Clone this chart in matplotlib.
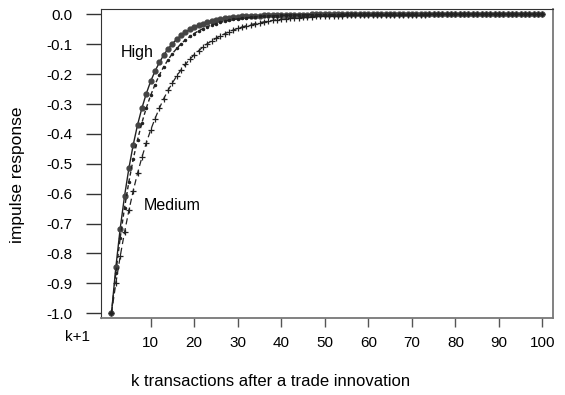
import matplotlib
matplotlib.use('Agg')
import matplotlib.pyplot as plt

plt.rcParams['font.family'] = ['Liberation Sans', 'DejaVu Sans']

# k = 1..100 transactions after the trade innovation
k = list(range(1, 101))

# impulse responses
high = [-1.000, -0.847, -0.717, -0.608, -0.515, -0.436, -0.369, -0.313, -0.265, -0.224,
        -0.190, -0.161, -0.136, -0.115, -0.098, -0.083, -0.070, -0.059, -0.050, -0.043,
        -0.036, -0.031, -0.026, -0.022, -0.019, -0.016, -0.013, -0.011, -0.010, -0.008,
        -0.007, -0.006, -0.005, -0.004, -0.004, -0.003, -0.003, -0.002, -0.002, -0.002,
        -0.001, -0.001, -0.001, -0.001, -0.001, -0.001, 0.000, 0.000, 0.000, 0.000,
        0.000, 0.000, 0.000, 0.000, 0.000, 0.000, 0.000, 0.000, 0.000, 0.000,
        0.000, 0.000, 0.000, 0.000, 0.000, 0.000, 0.000, 0.000, 0.000, 0.000,
        0.000, 0.000, 0.000, 0.000, 0.000, 0.000, 0.000, 0.000, 0.000, 0.000,
        0.000, 0.000, 0.000, 0.000, 0.000, 0.000, 0.000, 0.000, 0.000, 0.000,
        0.000, 0.000, 0.000, 0.000, 0.000, 0.000, 0.000, 0.000, 0.000, 0.000]

mid = [-1.000, -0.865, -0.748, -0.647, -0.560, -0.484, -0.419, -0.362, -0.313, -0.271,
       -0.235, -0.203, -0.175, -0.152, -0.131, -0.114, -0.098, -0.085, -0.074, -0.064,
       -0.055, -0.048, -0.041, -0.036, -0.031, -0.027, -0.023, -0.020, -0.017, -0.015,
       -0.013, -0.011, -0.010, -0.008, -0.007, -0.006, -0.005, -0.005, -0.004, -0.003,
       -0.003, -0.003, -0.002, -0.002, -0.002, -0.001, -0.001, -0.001, -0.001, -0.001,
       -0.001, -0.001, -0.001, 0.000, 0.000, 0.000, 0.000, 0.000, 0.000, 0.000,
       0.000, 0.000, 0.000, 0.000, 0.000, 0.000, 0.000, 0.000, 0.000, 0.000,
       0.000, 0.000, 0.000, 0.000, 0.000, 0.000, 0.000, 0.000, 0.000, 0.000,
       0.000, 0.000, 0.000, 0.000, 0.000, 0.000, 0.000, 0.000, 0.000, 0.000,
       0.000, 0.000, 0.000, 0.000, 0.000, 0.000, 0.000, 0.000, 0.000, 0.000]

medium = [-1.000, -0.900, -0.810, -0.729, -0.656, -0.590, -0.531, -0.478, -0.430, -0.387,
          -0.349, -0.314, -0.282, -0.254, -0.229, -0.206, -0.185, -0.167, -0.150, -0.135,
          -0.122, -0.109, -0.098, -0.089, -0.080, -0.072, -0.065, -0.058, -0.052, -0.047,
          -0.042, -0.038, -0.034, -0.031, -0.028, -0.025, -0.023, -0.020, -0.018, -0.016,
          -0.015, -0.013, -0.012, -0.011, -0.010, -0.009, -0.008, -0.007, -0.006, -0.006,
          -0.005, -0.005, -0.004, -0.004, -0.003, -0.003, -0.003, -0.002, -0.002, -0.002,
          -0.002, -0.002, -0.001, -0.001, -0.001, -0.001, -0.001, -0.001, -0.001, -0.001,
          -0.001, -0.001, -0.001, 0.000, 0.000, 0.000, 0.000, 0.000, 0.000, 0.000,
          0.000, 0.000, 0.000, 0.000, 0.000, 0.000, 0.000, 0.000, 0.000, 0.000,
          0.000, 0.000, 0.000, 0.000, 0.000, 0.000, 0.000, 0.000, 0.000, 0.000]

xticks = [10, 20, 30, 40, 50, 60, 70, 80, 90, 100]
yticks = [0.0, -0.1, -0.2, -0.3, -0.4, -0.5, -0.6, -0.7, -0.8, -0.9, -1.0]

fig = plt.figure(figsize=(5.65, 3.95), dpi=100)
ax = fig.add_axes([0.1788, 0.1942, 0.7991, 0.783])

ax.plot(k, high, color='#222222', lw=1.0, ls='-', marker='o', ms=3.5,
        mfc='#444444', mec='#444444')
ax.plot(k, mid, color='#222222', lw=1.0, ls=(0, (3, 2)), marker='.', ms=3,
        mfc='#222222', mec='#222222')
ax.plot(k, medium, color='#222222', lw=0.9, ls=(0, (5, 3)), marker='+', ms=5,
        mew=0.9, mec='#222222')

ax.set_xlim(-1.4, 102.3)
ax.set_ylim(-1.017, 0.018)
ax.set_xticks(xticks)
ax.set_yticks(yticks)
ax.set_yticklabels(['%.1f' % v for v in yticks])

for s in ['left', 'top']:
    ax.spines[s].set_color('#333333')
for s in ['bottom', 'right']:
    ax.spines[s].set_color('#777777')
    ax.spines[s].set_linewidth(1.3)

ax.tick_params(axis='y', direction='out', length=10.5, width=1, color='#333333',
               pad=10, labelsize=11)
ax.tick_params(axis='x', direction='out', length=6.5, width=1, color='#555555',
               pad=6, labelsize=11)

ax.text(6.85, -0.126, 'High', ha='center', va='center', fontsize=11.5)
ax.text(14.9, -0.641, 'Medium', ha='center', va='center', fontsize=11.5)

fig.text(77 / 565, 1 - 337 / 395, 'k+1', ha='center', va='center', fontsize=11)
fig.text(271 / 565, 1 - 382 / 395, 'k transactions after a trade innovation',
         ha='center', va='center', fontsize=12)
fig.text(18 / 565, 1 - 175 / 395, 'impulse response', ha='center', va='center',
         rotation=90, fontsize=12.5)

fig.savefig('out.png', dpi=100)
